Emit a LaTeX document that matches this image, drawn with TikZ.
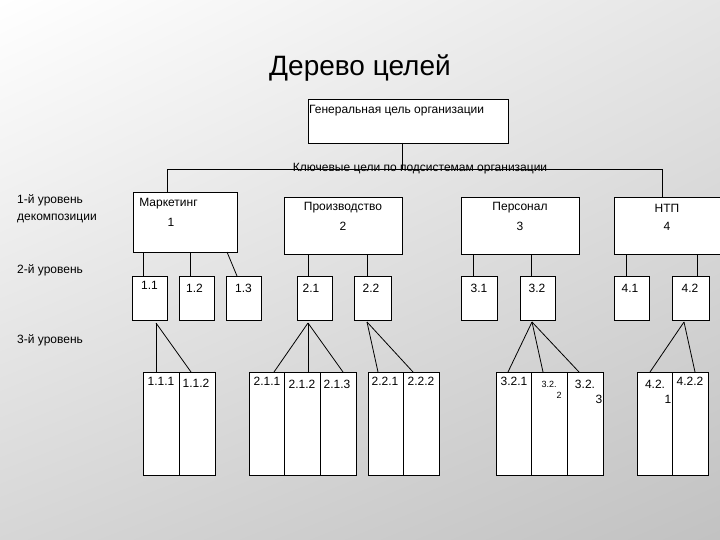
\documentclass[tikz,border=0pt]{standalone}
\usepackage{fontspec}
\setmainfont{Liberation Sans}
\usetikzlibrary{calc,shadings}
\begin{document}
\begin{tikzpicture}[x=1pt,y=-1pt,
  box/.style={draw, fill=white, line width=0.8pt, inner sep=0pt, outer sep=0pt, anchor=north west},
  lab/.style={font=\fontsize{12}{14}\selectfont, inner sep=0pt},
  sml/.style={font=\fontsize{9}{10}\selectfont, inner sep=0pt},
  side/.style={font=\fontsize{12}{14}\selectfont, inner sep=0pt, anchor=west},
  con/.style={line width=0.8pt}]
\useasboundingbox (0,0) rectangle (720,540);
\clip (0,0) rectangle (720,540);
\shade[upper left=white, upper right=black!10, lower left=black!16, lower right=black!24] (0,0) rectangle (720,540);

\node[font=\fontsize{28}{32}\selectfont, inner sep=0pt] (title) at (360,68) {Дерево целей};

% general goal
\node[box, minimum width=200pt, minimum height=44pt] (g) at (308,99) {};
\node[lab, anchor=west] (gt) at (309,111) {Генеральная цель организации};

% level 1
\node[box, minimum width=104pt, minimum height=60pt] (m1) at (133,192) {};
\node[box, minimum width=118pt, minimum height=57pt] (m2) at (284,197) {};
\node[box, minimum width=118pt, minimum height=57pt] (m3) at (461,197) {};
\node[box, minimum width=110pt, minimum height=57pt] (m4) at (614,197) {};

% key goals line
\coordinate (hl) at (167,169);
\coordinate (hr) at (662,169);
\draw[con] ([xshift=94pt]g.south west) -- ([xshift=94pt]g.south west |- hl);
\draw[con] ([xshift=34pt]m1.north west) -- (hl) -- (hr) -- ([xshift=48pt]m4.north west);
\node[lab] (kt) at (420,169) {Ключевые цели по подсистемам организации};

\node[lab] (m1a) at (168.5,204) {Маркетинг};
\node[lab] (m1b) at (171,222) {1};
\node[lab] (m2a) at (343,208) {Производство};
\node[lab] (m2b) at (343,226) {2};
\node[lab] (m3a) at (520,208) {Персонал};
\node[lab] (m3b) at (520,226) {3};
\node[lab] (m4a) at (667,208) {НТП};
\node[lab] (m4b) at (667,226) {4};

% level 2
\foreach \n/\x/\w in {l11/132/35, l12/179/35, l13/226/35, l21/297/35, l22/354/37, l31/461/36, l32/520/35, l41/614/35, l42/672/37}
  \node[box, minimum width=\w pt, minimum height=44pt] (\n) at (\x,276) {};

\node[lab] (t11) at (149.5,285) {1.1};
\node[lab] (t12) at (194.5,288) {1.2};
\node[lab] (t13) at (243.5,288) {1.3};
\node[lab] (t21) at (311,288) {2.1};
\node[lab] (t22) at (371,288) {2.2};
\node[lab] (t31) at (479,288) {3.1};
\node[lab] (t32) at (537,288) {3.2};
\node[lab] (t41) at (630,288) {4.1};
\node[lab] (t42) at (690,288) {4.2};

% level1 -> level2
\draw[con] ([xshift=11pt]l11.north west) -- ([xshift=11pt]l11.north west |- m1.south);
\draw[con] ([xshift=11pt]l12.north west) -- ([xshift=11pt]l12.north west |- m1.south);
\draw[con] ([xshift=94pt]m1.south west) -- ([xshift=11pt]l13.north west);
\draw[con] ([xshift=11pt]l21.north west) -- ([xshift=11pt]l21.north west |- m2.south);
\draw[con] ([xshift=13pt]l22.north west) -- ([xshift=13pt]l22.north west |- m2.south);
\draw[con] ([xshift=12pt]l31.north west) -- ([xshift=12pt]l31.north west |- m3.south);
\draw[con] ([xshift=11pt]l32.north west) -- ([xshift=11pt]l32.north west |- m3.south);
\draw[con] ([xshift=12pt]l41.north west) -- ([xshift=12pt]l41.north west |- m4.south);
\draw[con] ([xshift=25pt]l42.north west) -- ([xshift=25pt]l42.north west |- m4.south);

% level 3
\foreach \n/\x in {a111/143, a112/179, a211/249, a212/284.5, a213/320, a221/368, a222/403, a321/496, a322/531.5, a323/567, a421/637, a422/672.5}
  \node[box, minimum width=36pt, minimum height=103pt] (\n) at (\x,372) {};

\node[lab] (b111) at (161,381) {1.1.1};
\node[lab] (b112) at (196,383.5) {1.1.2};
\node[lab] (b211) at (267,381) {2.1.1};
\node[lab] (b212) at (302,384) {2.1.2};
\node[lab] (b213) at (337,384) {2.1.3};
\node[lab] (b221) at (385,381) {2.2.1};
\node[lab] (b222) at (421,381) {2.2.2};
\node[lab] (b321) at (514,381) {3.2.1};
\node[sml] (b322) at (549,384) {3.2.};
\node[sml] (b322b) at (559,395) {2};
\node[lab] (b323) at (585,384) {3.2.};
\node[lab] (b323b) at (599,399) {3};
\node[lab] (b421) at (655,384) {4.2.};
\node[lab] (b421b) at (668,399) {1};
\node[lab] (b422) at (690,381) {4.2.2};

% level2 -> level3
\coordinate (h11) at ([xshift=24pt,yshift=-3pt]l11.south west);
\draw[con] (h11) -- ([xshift=13pt]a111.north west);
\draw[con] (h11) -- ([xshift=12pt]a112.north west);
\coordinate (h21) at ([xshift=11pt,yshift=-3pt]l21.south west);
\draw[con] (h21) -- ([xshift=25pt]a211.north west);
\draw[con] (h21) -- ([xshift=23.5pt]a212.north west);
\draw[con] (h21) -- ([xshift=23pt]a213.north west);
\coordinate (h22) at ([xshift=13pt,yshift=-2pt]l22.south west);
\draw[con] (h22) -- ([xshift=10pt]a221.north west);
\draw[con] (h22) -- ([xshift=10pt]a222.north west);
\coordinate (h32) at ([xshift=12pt,yshift=-2pt]l32.south west);
\draw[con] (h32) -- ([xshift=12pt]a321.north west);
\draw[con] (h32) -- ([xshift=11.5pt]a322.north west);
\draw[con] (h32) -- ([xshift=12pt]a323.north west);
\coordinate (h42) at ([xshift=12pt,yshift=-2pt]l42.south west);
\draw[con] (h42) -- ([xshift=13pt]a421.north west);
\draw[con] (h42) -- ([xshift=22.5pt]a422.north west);

% side labels
\node[side] (s1a) at (17,200) {1-й уровень};
\node[side] (s1b) at (17,218) {декомпозиции};
\node[side] (s2) at (17,270) {2-й уровень};
\node[side] (s3) at (17,340) {3-й уровень};
\end{tikzpicture}
\end{document}
